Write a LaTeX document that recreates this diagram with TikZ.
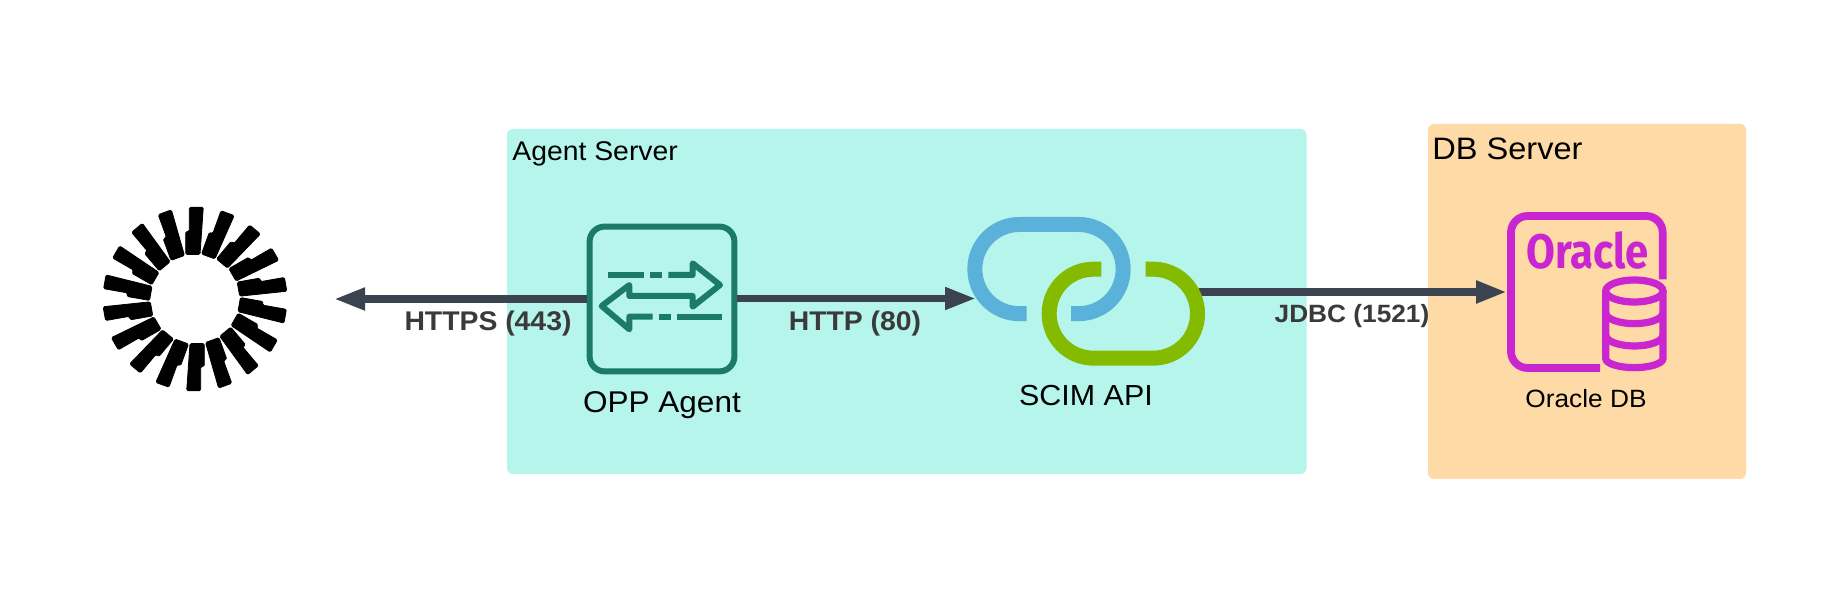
\documentclass[tikz,border=0pt]{standalone}
\usepackage{fontspec}
\setmainfont[FakeStretch=1.05]{Liberation Sans}
\newfontfamily\orafont{Fira Sans}
\usetikzlibrary{arrows.meta}
\definecolor{agentbg}{HTML}{B6F5EC}
\definecolor{dbbg}{HTML}{FDDAA6}
\definecolor{wire}{HTML}{3B4350}
\definecolor{wiretext}{HTML}{3A3A3A}
\definecolor{agentgreen}{HTML}{1B7B66}
\definecolor{scimblue}{HTML}{5AB2DA}
\definecolor{scimgreen}{HTML}{84BA00}
\definecolor{oramag}{HTML}{C925D1}
\tikzset{
  zone/.style={rounded corners=3pt,draw=none,inner sep=0pt},
  wirearrow/.style={draw=wire,line width=3.7pt,-{Triangle[length=15.5pt,width=10.5pt]}},
  wirelabel/.style={text=wiretext,font=\fontsize{13.5}{16}\selectfont\bfseries,inner sep=0pt},
  iconlabel/.style={text=black,inner sep=0pt},
  zonelabel/.style={text=black,inner sep=0pt,anchor=west},
  agentline/.style={draw=agentgreen,line width=3pt,line join=round},
  scimline/.style={line width=7.5pt},
  oraline/.style={draw=oramag,line width=3.9pt},
  oracyl/.style={draw=oramag,line width=3.6pt},
  ray/.style={fill=black,draw=black,line width=0.4pt,rounded corners=0.7pt,line join=round}
}
\begin{document}
\begin{tikzpicture}[x=0.5pt,y=-0.5pt]
\useasboundingbox (0,0) rectangle (1832,613);
\fill[white] (0,0) rectangle (1832,613);
% zones
\path[fill=agentbg,zone] (507,129) rectangle (1306.5,474);
\path[fill=dbbg,zone] (1428,124) rectangle (1746,479);
\node[zonelabel,font=\fontsize{13.5}{16}\selectfont] (agentzone) at (512,154) {Agent Server};
\node[zonelabel,font=\fontsize{15.5}{18}\selectfont] (dbzone) at (1432,149) {DB Server};
% logo
\coordinate (logo) at (195,299);
\foreach \a in {0,20,...,340}{
  \begin{scope}[shift={(logo)},rotate=\a]
    \path[ray] (-5.7,-91.8) -- (8.3,-91.8) -- (5,-44.5) -- (-9.3,-44.5) -- (-9.3,-67.5) -- (-5.7,-67.5) -- cycle;
  \end{scope}
}
\coordinate (peer) at (334,299);
\coordinate (scimin) at (976,298.5);
% nodes
\node[draw=agentgreen,line width=3pt,rounded corners=7.5pt,minimum width=72.4pt,minimum height=72.4pt,inner sep=0pt] (agent) at (662,299) {};
\node[minimum width=119pt,minimum height=74.5pt,inner sep=0pt,outer sep=0pt] (scim) at (1086,292) {};
\node[minimum width=80pt,minimum height=80pt,inner sep=0pt,outer sep=0pt] (oracle) at (1587,292) {};
% connectors
\draw[wirearrow] (agent.west) -- (peer);
\draw[wirearrow] (agent.east |- scimin) -- (scimin);
\draw[wirearrow,line width=4pt,shorten <=-3pt] (scim.east) -- (oracle.west);
\node[wirelabel] (l1) at (488,323.5) {HTTPS (443)};
\node[wirelabel] (l2) at (855,323.5) {HTTP (80)};
\node[wirelabel,font=\fontsize{12.5}{15}\selectfont\bfseries] (l3) at (1352,316.5) {JDBC (1521)};
% agent glyph
\begin{scope}[shift={(500,200)},x=0.16667pt,y=-0.16667pt]
  \draw[agentline] (325,225) -- (432,225) (450,225) -- (487,225);
  \draw[agentline] (505,225) -- (578,225) -- (578,190) -- (660,255) -- (578,320) -- (578,288) -- (388,288) -- (388,255) -- (305,318) -- (388,388) -- (388,350) -- (458,350);
  \draw[agentline] (477,350) -- (514,350) (532,350) -- (665,350);
\end{scope}
% scim glyph
\begin{scope}[shift={(940,200)},x=0.16667pt,y=-0.16667pt]
  \draw[scimline,draw=scimblue] (260,341) -- (238,341) .. controls (164,341) and (104.5,281) .. (104.5,207) .. controls (104.5,133.5) and (164,73.5) .. (238,73.5) -- (416,73.5) .. controls (490,73.5) and (549.5,133.5) .. (549.5,207) .. controls (549.5,281) and (490,341) .. (416,341) -- (393,341);
  \draw[scimline,draw=scimgreen] (484,207.5) -- (461,207.5) .. controls (387,207.5) and (327.5,267) .. (327.5,341) .. controls (327.5,415) and (387,474.5) .. (461,474.5) -- (639,474.5) .. controls (713,474.5) and (772.5,415) .. (772.5,341) .. controls (772.5,267) and (713,207.5) .. (639,207.5) -- (617,207.5);
\end{scope}
% oracle glyph
\begin{scope}[shift={(1480,190)},x=0.16667pt,y=-0.16667pt]
  \draw[oraline] (548,268) -- (548,128) .. controls (548,100) and (526,78) .. (498,78) -- (143,78) .. controls (115,78) and (93,100) .. (93,128) -- (93,484) .. controls (93,512) and (115,534) .. (143,534) -- (360,534);
  \draw[oracyl] (463,303) ellipse [x radius=14.33pt,y radius=5.5pt];
  \draw[oracyl] (377,303) -- (377,505) .. controls (377,522) and (420,533) .. (463,533) .. controls (506,533) and (549,522) .. (549,505) -- (549,303);
  \draw[oracyl] (377,368) .. controls (377,388) and (420,401) .. (463,401) .. controls (506,401) and (549,388) .. (549,368);
  \draw[oracyl] (377,435) .. controls (377,455) and (420,468) .. (463,468) .. controls (506,468) and (549,455) .. (549,435);
  \node[inner sep=0pt,text=oramag,anchor=base west] (oralogo) at (137,236) {\resizebox{61.3pt}{18.4pt}{\orafont\bfseries Oracle}};
\end{scope}
% icon labels
\node[iconlabel,font=\fontsize{15}{18}\selectfont] (agentlabel) at (662,405.5) {OPP Agent};
\node[iconlabel,font=\fontsize{14.5}{18}\selectfont] (scimlabel) at (1086,396) {SCIM API};
\node[iconlabel,font=\fontsize{12.5}{15}\selectfont] (oralabel) at (1586,398.5) {Oracle DB};
\end{tikzpicture}
\end{document}
